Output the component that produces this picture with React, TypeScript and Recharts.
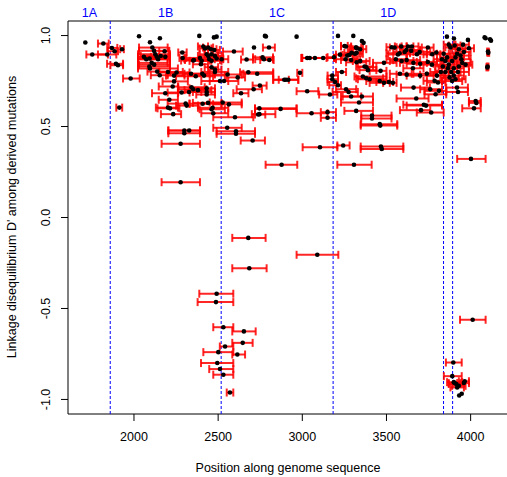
import {
  ScatterChart,
  Scatter,
  XAxis,
  YAxis,
  ErrorBar,
  ReferenceLine,
  ReferenceArea,
  ReferenceDot,
} from "recharts";

// each row: [position, D', lower position, upper position]
type Row = [number, number, number, number];

const region1A: Row[] = [
  [1711, 0.962, 1711, 1711],
  [1818, 0.956, 1786, 1850],
  [1752, 0.896, 1717, 1845],
  [1841, 0.896, 1786, 1895],
  [1869, 0.932, 1841, 1901],
  [1885, 0.914, 1845, 1905],
];

const region1B: Row[] = [
  [1929, 0.925, 1918, 1940], [1893, 0.845, 1840, 1935], [1905, 0.837, 1860, 1935],
  [1980, 0.764, 1935, 2034], [1913, 0.604, 1895, 1930], [2030, 0.996, 2030, 2030],
  [2154, 0.985, 2154, 2154], [2095, 0.963, 2095, 2095], [2109, 0.934, 2030, 2200],
  [2119, 0.916, 2030, 2210], [2127, 0.897, 2024, 2214], [2135, 0.883, 2024, 2214],
  [2143, 0.87, 2024, 2214], [2159, 0.888, 2040, 2214], [2182, 0.914, 2150, 2205],
  [2186, 0.883, 2100, 2214], [2059, 0.883, 2024, 2150], [2073, 0.87, 2024, 2200],
  [2093, 0.874, 2024, 2214], [2091, 0.83, 2024, 2214], [2095, 0.819, 2024, 2261],
  [2138, 0.802, 2080, 2214], [2153, 0.782, 2100, 2200], [2105, 0.85, 2024, 2200],
  [2120, 0.84, 2030, 2214], [2202, 0.8, 2150, 2290], [2238, 0.78, 2190, 2300],
  [2238, 0.748, 2170, 2320], [2230, 0.72, 2147, 2261], [2186, 0.683, 2107, 2261],
  [2210, 0.647, 2147, 2261], [2202, 0.604, 2130, 2261], [2214, 0.6, 2140, 2270],
  [2233, 0.568, 2160, 2280], [2289, 0.877, 2270, 2300], [2287, 0.907, 2263, 2313],
  [2352, 0.863, 2280, 2450], [2356, 0.866, 2303, 2511], [2392, 0.877, 2310, 2450],
  [2412, 0.94, 2380, 2440], [2422, 0.929, 2390, 2460], [2441, 0.934, 2410, 2470],
  [2457, 0.925, 2420, 2490], [2477, 0.921, 2440, 2510], [2432, 0.897, 2390, 2470],
  [2441, 0.888, 2380, 2500], [2461, 0.897, 2420, 2500], [2481, 0.888, 2440, 2520],
  [2491, 0.874, 2450, 2530], [2447, 0.87, 2300, 2530], [2461, 0.861, 2390, 2520],
  [2402, 0.861, 2330, 2460], [2398, 0.842, 2350, 2440], [2461, 0.826, 2420, 2500],
  [2481, 0.813, 2440, 2520], [2388, 0.998, 2388, 2388], [2475, 0.99, 2475, 2475],
  [2491, 0.994, 2491, 2491], [2253, 0.797, 2150, 2330], [2339, 0.79, 2200, 2450],
  [2367, 0.776, 2250, 2470], [2406, 0.79, 2300, 2480], [2416, 0.78, 2320, 2540],
  [2481, 0.8, 2400, 2560], [2342, 0.716, 2263, 2420], [2352, 0.705, 2263, 2430],
  [2380, 0.7, 2300, 2460], [2432, 0.71, 2330, 2481], [2432, 0.69, 2350, 2481],
  [2432, 0.676, 2370, 2481], [2327, 0.69, 2263, 2400], [2283, 0.687, 2200, 2330],
  [2307, 0.626, 2200, 2330], [2313, 0.615, 2250, 2380], [2408, 0.625, 2330, 2520],
  [2440, 0.63, 2350, 2520], [2461, 0.595, 2390, 2540], [2467, 0.603, 2380, 2560],
  [2471, 0.573, 2400, 2560], [2511, 0.75, 2400, 2560], [2299, 0.478, 2204, 2392],
  [2328, 0.478, 2204, 2392], [2299, 0.463, 2204, 2392], [2277, 0.405, 2164, 2392],
  [2277, 0.194, 2164, 2392], [2491, -0.419, 2388, 2590], [2487, -0.465, 2378, 2590],
  [2501, -0.74, 2412, 2590], [2495, -0.8, 2398, 2590], [2511, -0.833, 2447, 2590],
];

const region1C: Row[] = [
  [2521, 0.87, 2480, 2560], [2535, 0.75, 2450, 2620], [2527, 0.632, 2450, 2640],
  [2564, 0.622, 2470, 2640], [2554, 0.493, 2471, 2640], [2606, 0.474, 2491, 2719],
  [2606, 0.46, 2491, 2719], [2705, 0.423, 2634, 2778], [2600, 0.551, 2471, 2709],
  [2745, 0.6, 2719, 2966], [2871, 0.597, 2719, 2966], [2745, 0.568, 2700, 2840],
  [2738, 0.566, 2719, 2780], [2877, 0.29, 2782, 2970], [2679, -0.112, 2584, 2782],
  [2685, -0.279, 2584, 2788], [3089, -0.205, 2966, 3214], [2531, -0.603, 2471, 2590],
  [2653, -0.626, 2584, 2723], [2646, -0.689, 2584, 2705], [2541, -0.709, 2510, 2590],
  [2614, -0.753, 2584, 2660], [2531, -0.864, 2471, 2590], [2570, -0.962, 2551, 2590],
  [2778, 0.998, 2778, 2778], [2784, 0.995, 2784, 2784], [2713, 0.934, 2713, 2713],
  [2802, 0.934, 2766, 2837], [2594, 0.912, 2529, 2646], [2669, 0.868, 2636, 2707],
  [2764, 0.88, 2707, 2826], [2772, 0.87, 2720, 2826], [2804, 0.866, 2750, 2830],
  [2966, 0.994, 2966, 2966], [2556, 0.786, 2480, 2640], [2616, 0.77, 2550, 2660],
  [2679, 0.798, 2630, 2827], [2732, 0.79, 2650, 2827], [2893, 0.757, 2860, 2920],
  [2903, 0.757, 2827, 2976], [2917, 0.757, 2827, 2976], [2986, 0.795, 2970, 3000],
  [2748, 0.725, 2705, 2788], [2711, 0.705, 2610, 2760], [2636, 0.683, 2590, 2680],
  [3029, 0.694, 2966, 3095], [3164, 0.676, 3100, 3208], [3029, 0.877, 2996, 3144],
  [3044, 0.877, 2996, 3190], [3075, 0.877, 2996, 3190], [3124, 0.877, 3000, 3190],
  [3188, 0.881, 3150, 3200], [3055, 0.573, 2966, 3150], [3150, 0.579, 3110, 3200],
  [3150, 0.548, 3110, 3200], [3105, 0.386, 3002, 3208],
];

const region1D: Row[] = [
  [3212, 0.998, 3212, 3212], [3303, 0.998, 3303, 3303], [3354, 0.97, 3354, 3354],
  [3364, 0.96, 3364, 3364], [3251, 0.943, 3230, 3270], [3259, 0.94, 3230, 3290],
  [3325, 0.93, 3280, 3360], [3343, 0.925, 3300, 3380], [3319, 0.935, 3290, 3350],
  [3224, 0.895, 3200, 3300], [3267, 0.89, 3230, 3310], [3279, 0.893, 3240, 3320],
  [3293, 0.905, 3250, 3340], [3313, 0.9, 3270, 3360], [3323, 0.905, 3280, 3350],
  [3257, 0.87, 3200, 3330], [3290, 0.866, 3230, 3344], [3323, 0.853, 3260, 3380],
  [3344, 0.86, 3300, 3400], [3485, 0.85, 3420, 3560], [3370, 0.83, 3320, 3420],
  [3381, 0.826, 3330, 3440], [3390, 0.81, 3340, 3440], [3465, 0.806, 3400, 3500],
  [3235, 0.8, 3200, 3260], [3178, 0.78, 3150, 3212], [3178, 0.76, 3150, 3212],
  [3195, 0.745, 3150, 3212], [3212, 0.727, 3160, 3230], [3360, 0.775, 3310, 3500],
  [3380, 0.765, 3320, 3480], [3400, 0.76, 3330, 3500], [3460, 0.75, 3380, 3520],
  [3485, 0.74, 3400, 3520], [3514, 0.745, 3440, 3540], [3260, 0.705, 3200, 3320],
  [3275, 0.69, 3180, 3330], [3290, 0.665, 3230, 3350], [3354, 0.665, 3240, 3420],
  [3337, 0.632, 3230, 3420], [3320, 0.586, 3250, 3420], [3414, 0.56, 3350, 3530],
  [3414, 0.544, 3350, 3530], [3460, 0.513, 3347, 3564], [3463, 0.505, 3347, 3564],
  [3243, 0.396, 3208, 3281], [3467, 0.39, 3347, 3600], [3472, 0.377, 3347, 3600],
  [3307, 0.29, 3208, 3412], [3531, 0.936, 3500, 3560], [3588, 0.94, 3550, 3620],
  [3628, 0.94, 3590, 3660], [3651, 0.94, 3620, 3690], [3746, 0.934, 3710, 3780],
  [3548, 0.934, 3520, 3580], [3578, 0.903, 3500, 3640], [3608, 0.91, 3540, 3660],
  [3618, 0.921, 3580, 3700], [3647, 0.916, 3600, 3700], [3681, 0.897, 3620, 3740],
  [3697, 0.91, 3640, 3760], [3772, 0.897, 3720, 3820], [3796, 0.907, 3740, 3840],
  [3568, 0.896, 3510, 3620], [3556, 0.87, 3500, 3620], [3590, 0.86, 3520, 3660],
  [3620, 0.865, 3540, 3700], [3660, 0.85, 3580, 3740], [3700, 0.845, 3620, 3780],
  [3746, 0.855, 3680, 3800], [3770, 0.84, 3700, 3830], [3580, 0.79, 3520, 3650],
  [3620, 0.785, 3560, 3700], [3657, 0.82, 3600, 3720], [3700, 0.78, 3620, 3780],
  [3740, 0.79, 3660, 3800], [3800, 0.78, 3740, 3850], [3823, 0.8, 3760, 3870],
  [3538, 0.74, 3480, 3560], [3677, 0.654, 3560, 3750], [3722, 0.62, 3600, 3830],
  [3735, 0.615, 3620, 3830], [3705, 0.59, 3580, 3760], [3766, 0.577, 3680, 3840],
  [3661, 0.714, 3586, 3758], [3760, 0.705, 3700, 3830], [3786, 0.751, 3720, 3830],
  [3806, 0.742, 3740, 3850], [3812, 0.696, 3726, 3855], [3792, 0.677, 3726, 3855],
];

const regionEnd: Row[] = [
  [3859, 0.994, 3859, 3859], [3901, 0.984, 3901, 3901], [3984, 0.976, 3984, 3984],
  [4083, 0.99, 4083, 4083], [4089, 0.985, 4089, 4089], [4115, 0.98, 4115, 4115],
  [4121, 0.972, 4121, 4121], [4103, 0.912, 4098, 4108], [4105, 0.905, 4100, 4110],
  [4101, 0.83, 4096, 4106], [4099, 0.825, 4094, 4104], [3870, 0.95, 3840, 3900],
  [3880, 0.935, 3850, 3920], [3920, 0.9, 3870, 3960], [3910, 0.88, 3860, 3960],
  [3940, 0.89, 3900, 3990], [3960, 0.91, 3910, 4000], [3945, 0.87, 3890, 4000],
  [3930, 0.925, 3890, 3970], [3990, 0.93, 3950, 4020], [3860, 0.88, 3820, 3900],
  [3850, 0.86, 3800, 3900], [3870, 0.84, 3820, 3920], [3865, 0.82, 3810, 3920],
  [3885, 0.8, 3830, 3940], [3900, 0.78, 3840, 3960], [3875, 0.77, 3820, 3930],
  [3850, 0.8, 3790, 3900], [3830, 0.87, 3780, 3880], [3835, 0.83, 3790, 3880],
  [3930, 0.83, 3870, 3990], [3950, 0.85, 3900, 4000], [3970, 0.84, 3920, 4010],
  [3910, 0.76, 3850, 3970], [3890, 0.75, 3830, 3950], [3840, 0.9, 3800, 3880],
  [3955, 0.95, 3910, 3990], [3905, 0.945, 3870, 3940], [3890, 0.86, 3840, 3940],
  [3900, 0.82, 3850, 3960], [3925, 0.8, 3870, 3990], [3919, 0.714, 3855, 3984],
  [3925, 0.69, 3855, 3984], [4030, 0.64, 3990, 4060], [4034, 0.63, 3990, 4060],
  [4020, 0.6, 3950, 4060], [4002, 0.322, 3920, 4089], [4012, -0.562, 3937, 4089],
  [3897, -0.797, 3853, 3947], [3891, -0.872, 3841, 3947], [3900, -0.905, 3860, 3950],
  [3915, -0.915, 3870, 3960], [3930, -0.925, 3890, 3970], [3960, -0.91, 3920, 3990],
  [3965, -0.9, 3930, 3990], [3920, -0.934, 3880, 3960], [3905, -0.91, 3870, 3940],
  [3932, -0.978, 3932, 3932], [3947, -0.969, 3947, 3947],
];

const boundaries = [1859, 2518, 3183, 3839, 3893];
const regionNames = ["1A", "1B", "1C", "1D"];
const regionCentres = [1735, 2188, 2850, 3511];
const xTicks = [2000, 2500, 3000, 3500, 4000];
const yTicks = [-1, -0.5, 0, 0.5, 1];
const xDomain = [1608, 4222];
const yDomain = [-1.08, 1.08];

// points without an interval get no error bar
const data = [...region1A, ...region1B, ...region1C, ...region1D, ...regionEnd].map(
  ([pos, ld, lo, hi]) => ({
    pos,
    ld,
    err: hi > lo ? [pos - lo, hi - pos] : undefined,
  })
);

const font = "'Liberation Sans', Arial, Helvetica, sans-serif";

function XTick({ x, y, payload }: any) {
  return (
    <text x={x} y={y + 18} textAnchor="middle" fontSize={12.5} fill="#000" fontFamily={font}>
      {payload.value}
    </text>
  );
}

function YTick({ x, y, payload }: any) {
  const tx = x - 9;
  return (
    <text
      x={tx}
      y={y}
      transform={`rotate(-90 ${tx} ${y})`}
      textAnchor="middle"
      fontSize={12.5}
      fill="#000"
      fontFamily={font}
    >
      {payload.value.toFixed(1)}
    </text>
  );
}

function Point({ cx, cy }: any) {
  return <circle cx={cx} cy={cy} r={2.3} fill="#000" />;
}

export default function App() {
  return (
    <div
      style={{
        position: "absolute",
        left: 0,
        top: 0,
        width: 507,
        height: 477,
        overflow: "hidden",
        background: "#fff",
      }}
    >
      <ScatterChart
        width={510}
        height={477}
        margin={{ top: 21, right: 2, bottom: 0, left: 0 }}
        style={{ fontFamily: font }}
      >
        <XAxis
          type="number"
          dataKey="pos"
          domain={xDomain}
          ticks={xTicks}
          height={63}
          axisLine={false}
          tickSize={7}
          tickLine={{ stroke: "#000" }}
          tick={<XTick />}
          label={{
            content: () => (
              <text x={288} y={472} textAnchor="middle" fontSize={12.5} fill="#000" fontFamily={font}>
                Position along genome sequence
              </text>
            ),
          }}
        />
        <YAxis
          type="number"
          dataKey="ld"
          domain={yDomain}
          ticks={yTicks}
          width={68}
          axisLine={false}
          tickSize={7}
          tickLine={{ stroke: "#000" }}
          tick={<YTick />}
          label={{
            content: () => (
              <text
                x={16}
                y={217}
                transform="rotate(-90 16 217)"
                textAnchor="middle"
                fontSize={12.5}
                fill="#000"
                fontFamily={font}
              >
                Linkage disequilibrium D' among derived mutations
              </text>
            ),
          }}
        />
        <ReferenceArea
          x1={xDomain[0]}
          x2={xDomain[1]}
          y1={yDomain[0]}
          y2={yDomain[1]}
          fill="none"
          stroke="#000"
          strokeWidth={1}
          ifOverflow="visible"
        />
        {boundaries.map((b) => (
          <ReferenceLine key={b} x={b} stroke="#0000ff" strokeDasharray="3 2" strokeWidth={1} />
        ))}
        {regionNames.map((name, i) => (
          <ReferenceDot
            key={name}
            x={regionCentres[i]}
            y={yDomain[1]}
            r={1}
            fill="none"
            stroke="none"
            ifOverflow="visible"
            label={{ value: name, position: "top", fill: "#0000ff", fontSize: 12.5, offset: 3 }}
          />
        ))}
        <Scatter data={data} dataKey="ld" shape={<Point />} isAnimationActive={false}>
          <ErrorBar
            dataKey="err"
            direction="x"
            width={4}
            stroke="#ff0000"
            strokeWidth={2}
            strokeOpacity={0.85}
            isAnimationActive={false}
          />
        </Scatter>
      </ScatterChart>
    </div>
  );
}
